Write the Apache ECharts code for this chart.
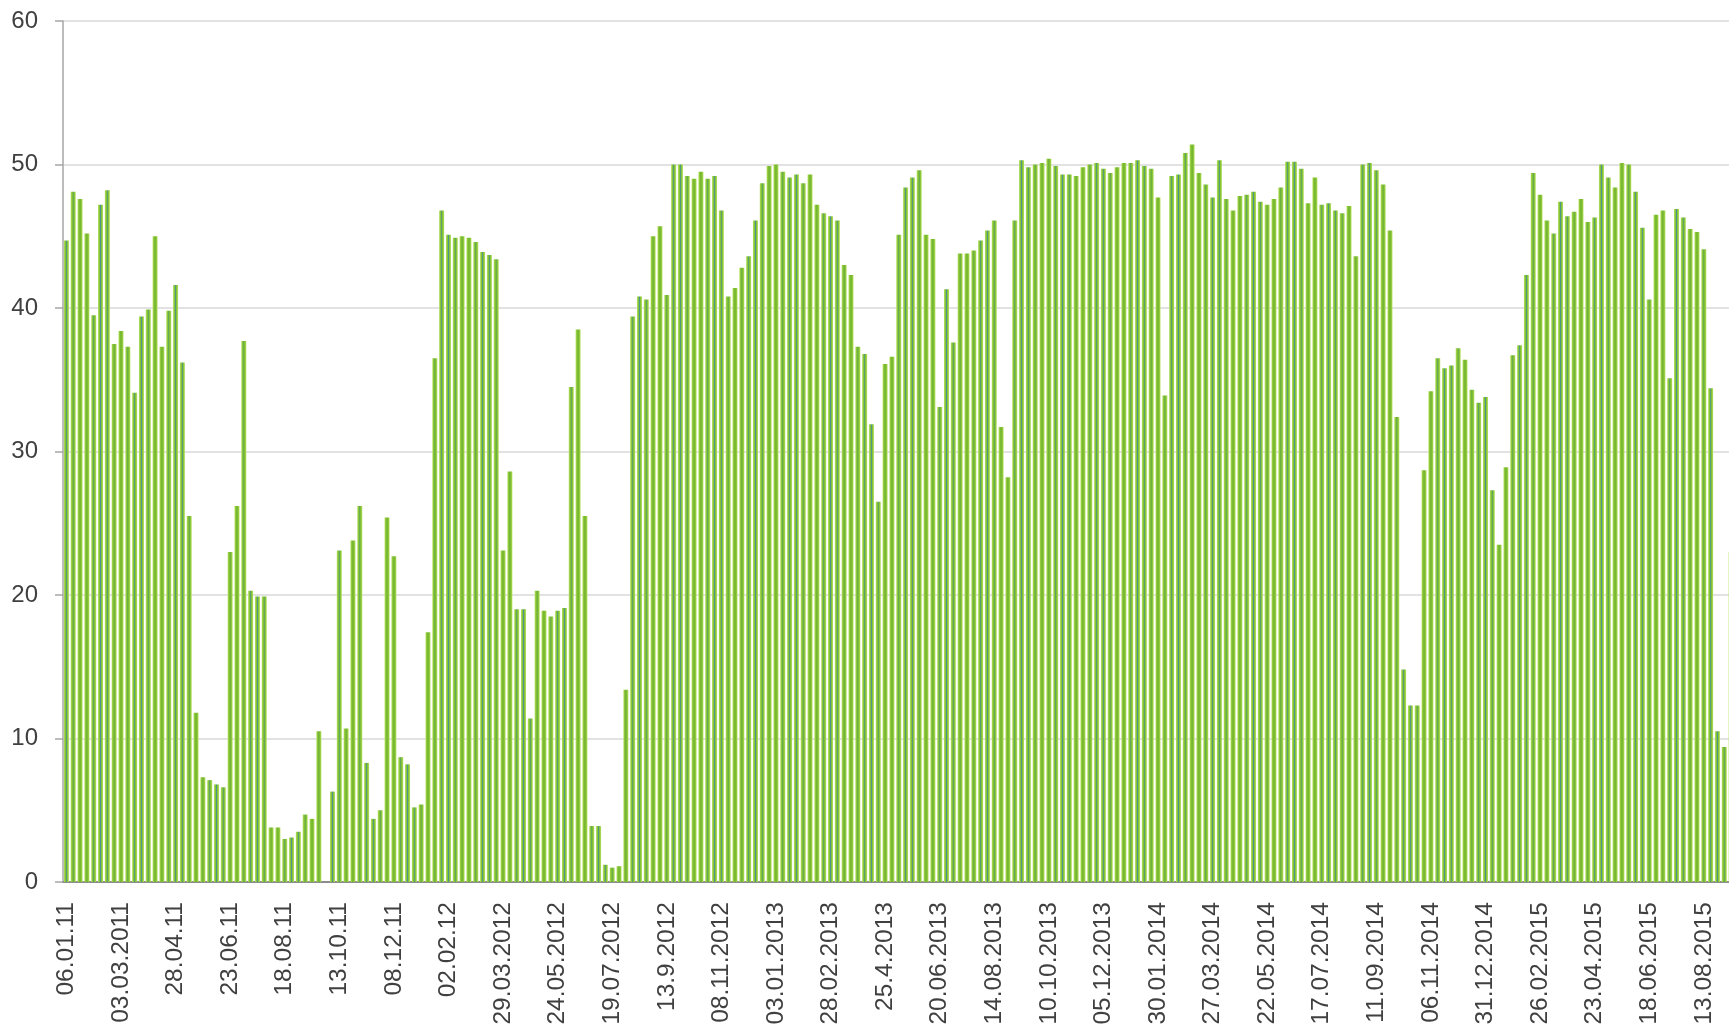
<!DOCTYPE html>
<html>
<head>
<meta charset="utf-8">
<script src="https://cdn.jsdelivr.net/npm/echarts@6/dist/echarts.min.js"></script>
<style>
  html, body { margin: 0; padding: 0; background: #fff; }
  #chart { width: 1729px; height: 1024px; }
</style>
</head>
<body>
<div id="chart"></div>
<script>
// weekly values, one per bar (first week 06.01.11)
var weekValues = [
  44.7, 48.1, 47.6, 45.2, 39.5, 47.2, 48.2, 37.5, 38.4, 37.3,
  34.1, 39.4, 39.9, 45.0, 37.3, 39.8, 41.6, 36.2, 25.5, 11.8,
  7.3, 7.1, 6.8, 6.6, 23.0, 26.2, 37.7, 20.3, 19.9, 19.9,
  3.8, 3.8, 3.0, 3.1, 3.5, 4.7, 4.4, 10.5, 0, 6.3,
  23.1, 10.7, 23.8, 26.2, 8.3, 4.4, 5.0, 25.4, 22.7, 8.7,
  8.2, 5.2, 5.4, 17.4, 36.5, 46.8, 45.1, 44.9, 45.0, 44.9,
  44.6, 43.9, 43.7, 43.4, 23.1, 28.6, 19.0, 19.0, 11.4, 20.3,
  18.9, 18.5, 18.9, 19.1, 34.5, 38.5, 25.5, 3.9, 3.9, 1.2,
  1.0, 1.1,
  13.4, 39.4, 40.8, 40.6, 45.0, 45.7, 40.9, 50.0, 50.0, 49.2,
  49.0, 49.5, 49.0, 49.2, 46.8, 40.8, 41.4, 42.8, 43.6, 46.1,
  48.7, 49.9, 50.0, 49.5, 49.1, 49.3, 48.7, 49.3, 47.2, 46.6,
  46.4, 46.1, 43.0, 42.3, 37.3, 36.8, 31.9, 26.5, 36.1, 36.6,
  45.1, 48.4, 49.1, 49.6, 45.1, 44.8, 33.1, 41.3, 37.6, 43.8,
  43.8, 44.0, 44.7, 45.4, 46.1, 31.7, 28.2, 46.1, 50.3, 49.8,
  50.0, 50.1, 50.4, 49.9, 49.3, 49.3, 49.2, 49.8, 50.0, 50.1,
  49.7, 49.4, 49.8, 50.1, 50.1, 50.3, 49.9, 49.7, 47.7, 33.9,
  49.2,
  49.3, 50.8, 51.4, 49.4, 48.6, 47.7, 50.3, 47.6, 46.8, 47.8,
  47.9, 48.1, 47.4, 47.2, 47.6, 48.4, 50.2, 50.2, 49.7, 47.3,
  49.1, 47.2, 47.3, 46.8, 46.6, 47.1, 43.6, 50.0, 50.1, 49.6,
  48.6, 45.4, 32.4, 14.8, 12.3, 12.3, 28.7, 34.2, 36.5, 35.8,
  36.0,
  37.2, 36.4, 34.3, 33.4, 33.8, 27.3, 23.5, 28.9, 36.7, 37.4,
  42.3, 49.4, 47.9, 46.1, 45.2, 47.4, 46.4, 46.7, 47.6, 46.0,
  46.3, 50.0, 49.1, 48.4, 50.1, 50.0, 48.1, 45.6, 40.6, 46.5,
  46.8, 35.1, 46.9, 46.3, 45.5, 45.3, 44.1, 34.4, 10.5, 9.4,
  23.0
];

// date labels shown under every 8th week
var tickLabels = [
  '06.01.11', '03.03.2011', '28.04.11', '23.06.11', '18.08.11', '13.10.11',
  '08.12.11', '02.02.12', '29.03.2012', '24.05.2012', '19.07.2012', '13.9.2012',
  '08.11.2012', '03.01.2013', '28.02.2013', '25.4.2013', '20.06.2013', '14.08.2013',
  '10.10.2013', '05.12.2013', '30.01.2014', '27.03.2014', '22.05.2014', '17.07.2014',
  '11.09.2014', '06.11.2014', '31.12.2014', '26.02.2015', '23.04.2015', '18.06.2015',
  '13.08.2015'
];
var labelStep = 8;

// one category per week
var weeks = weekValues.map(function (v, i) { return 'w' + i; });

var chart = echarts.init(document.getElementById('chart'));

// light edges, bright green body, thin blue-ish core (like the original bars)
var barColor = new echarts.graphic.LinearGradient(0, 0, 1, 0, [
  { offset: 0, color: '#bce36f' },
  { offset: 0.2, color: '#92cc3c' },
  { offset: 0.42, color: '#78b832' },
  { offset: 0.5, color: '#4a9298' },
  { offset: 0.58, color: '#78b832' },
  { offset: 0.8, color: '#92cc3c' },
  { offset: 1, color: '#bce36f' }
]);

chart.setOption({
  animation: false,
  grid: {
    left: 63,
    right: -5.5,
    top: 21,
    bottom: 142,
    containLabel: false,
    outerBoundsMode: 'none'
  },
  xAxis: {
    type: 'category',
    data: weeks,
    boundaryGap: true,
    axisLine: { lineStyle: { color: '#8c8c8c', width: 2 } },
    axisTick: { show: false },
    axisLabel: {
      interval: labelStep - 1,
      rotate: 90,
      margin: 20,
      fontSize: 24.5,
      fontFamily: 'Liberation Sans',
      color: '#404040',
      formatter: function (val, idx) {
        return idx % labelStep === 0 ? (tickLabels[idx / labelStep] || '') : '';
      }
    },
    splitLine: { show: false }
  },
  yAxis: {
    type: 'value',
    min: 0,
    max: 60,
    interval: 10,
    axisLine: { show: true, lineStyle: { color: '#a6a6a6', width: 1.5 } },
    axisTick: { show: true, length: 8, lineStyle: { color: '#a6a6a6', width: 1.5 } },
    axisLabel: {
      margin: 25,
      fontSize: 24,
      fontFamily: 'Liberation Sans',
      color: '#404040'
    },
    splitLine: { lineStyle: { color: '#d9d9d9', width: 1.5 } }
  },
  series: [
    {
      type: 'bar',
      data: weekValues,
      barWidth: 5,
      itemStyle: { color: barColor }
    }
  ]
});
</script>
</body>
</html>
